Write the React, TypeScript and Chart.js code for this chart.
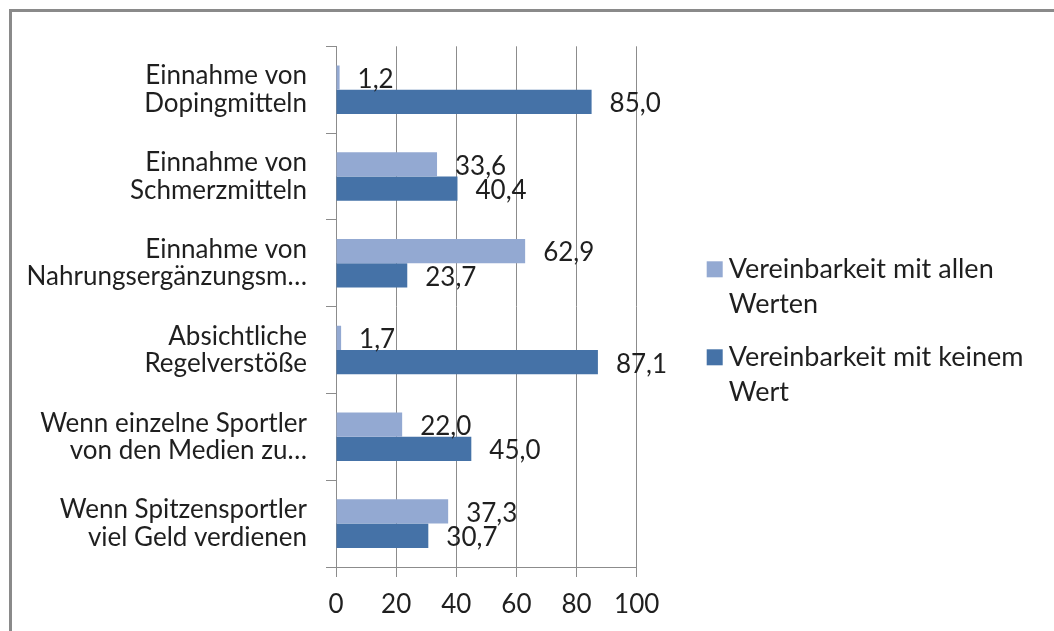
import React, { useEffect, useRef } from "react";
import { Chart, registerables } from "chart.js";

Chart.register(...registerables);

const categories: string[][] = [
  ["Einnahme von", "Dopingmitteln"],
  ["Einnahme von", "Schmerzmitteln"],
  ["Einnahme von", "Nahrungsergänzungsm…"],
  ["Absichtliche", "Regelverstöße"],
  ["Wenn einzelne Sportler", "von den Medien zu…"],
  ["Wenn Spitzensportler", "viel Geld verdienen"],
];

const seriesNames: string[][] = [
  ["Vereinbarkeit mit allen", "Werten"],
  ["Vereinbarkeit mit keinem", "Wert"],
];

const valuesAllen: number[] = [1.2, 33.6, 62.9, 1.7, 22.0, 37.3];
const valuesKeinem: number[] = [85.0, 40.4, 23.7, 87.1, 45.0, 30.7];

const xTicks: number[] = [0, 20, 40, 60, 80, 100];

const COLORS = ["#93a9d2", "#4572a7"];
const FONT = "Lato";
const FS = 26;
const TEXT = "#1f1f1f";
const GRID = "#8c8c8c";

const fmt = (v: number) => v.toFixed(1).replace(".", ",");

const frame = {
  id: "frame",
  beforeDraw(chart: any) {
    const ctx = chart.ctx;
    ctx.save();
    ctx.fillStyle = "#ffffff";
    ctx.fillRect(0, 0, chart.width, chart.height);
    ctx.fillStyle = "#8a8a8a";
    ctx.fillRect(9, 9, chart.width - 9, 3);
    ctx.fillRect(9, 9, 3, chart.height - 9);
    ctx.restore();
  },
};

const valueLabels = {
  id: "valueLabels",
  afterDatasetsDraw(chart: any) {
    const ctx = chart.ctx;
    ctx.save();
    ctx.font = `${FS}px ${FONT}`;
    ctx.fillStyle = TEXT;
    ctx.textAlign = "left";
    ctx.textBaseline = "middle";
    chart.data.datasets.forEach((ds: any, i: number) => {
      const meta = chart.getDatasetMeta(i);
      meta.data.forEach((el: any, j: number) => {
        ctx.fillText(fmt(ds.data[j]), el.x + 18, el.y + 2);
      });
    });
    ctx.restore();
  },
};

const sideLegend = {
  id: "sideLegend",
  afterDraw(chart: any) {
    const ctx = chart.ctx;
    const area = chart.chartArea;
    const x0 = area.right + 70;
    let y = area.top + 215;
    ctx.save();
    ctx.font = `27px ${FONT}`;
    ctx.textAlign = "left";
    ctx.textBaseline = "middle";
    seriesNames.forEach((lines, i) => {
      ctx.fillStyle = COLORS[i];
      ctx.fillRect(x0, y, 16, 16);
      ctx.fillStyle = TEXT;
      lines.forEach((ln, k) => {
        ctx.fillText(ln, x0 + 22, y + 8 + k * 35);
      });
      y += 88;
    });
    ctx.restore();
  },
};

export default function App() {
  const ref = useRef<HTMLCanvasElement | null>(null);

  useEffect(() => {
    if (!ref.current) return;
    const chart = new Chart(ref.current, {
      type: "bar",
      data: {
        labels: categories,
        datasets: [
          {
            label: seriesNames[0].join(" "),
            data: valuesAllen,
            backgroundColor: COLORS[0],
            borderWidth: 0,
            categoryPercentage: 0.56,
            barPercentage: 1,
          },
          {
            label: seriesNames[1].join(" "),
            data: valuesKeinem,
            backgroundColor: COLORS[1],
            borderWidth: 0,
            categoryPercentage: 0.56,
            barPercentage: 1,
          },
        ],
      },
      options: {
        indexAxis: "y",
        responsive: false,
        animation: false,
        layout: { padding: { top: 42.7, right: 417.3, bottom: 0, left: 0 } },
        plugins: {
          legend: { display: false },
          tooltip: { enabled: false },
          title: { display: false },
        },
        scales: {
          x: {
            min: 0,
            max: 100,
            afterBuildTicks: (scale: any) => {
              scale.ticks = xTicks.map((v) => ({ value: v }));
            },
            afterFit: (scale: any) => {
              scale.height = 64;
            },
            grid: {
              color: GRID,
              lineWidth: 1,
              tickLength: 10,
              drawTicks: true,
            },
            border: { display: true, color: GRID, width: 1 },
            ticks: {
              color: TEXT,
              font: { family: FONT, size: FS },
              padding: 12,
              maxRotation: 0,
            },
          },
          y: {
            afterFit: (scale: any) => {
              scale.width = 336;
            },
            grid: {
              display: true,
              drawOnChartArea: false,
              drawTicks: true,
              tickLength: 10,
              color: GRID,
              offset: true,
            },
            border: { display: true, color: GRID, width: 1 },
            ticks: {
              color: TEXT,
              font: { family: FONT, size: FS, lineHeight: 1.05 },
              padding: 19,
              autoSkip: false,
            },
          },
        },
      },
      plugins: [frame, valueLabels, sideLegend],
    });
    return () => chart.destroy();
  }, []);

  return (
    <div
      style={{
        position: "absolute",
        left: 0,
        top: 0,
        width: 1054,
        height: 631,
        background: "#fff",
      }}
    >
      <canvas ref={ref} width={1054} height={631} style={{ display: "block" }} />
    </div>
  );
}
